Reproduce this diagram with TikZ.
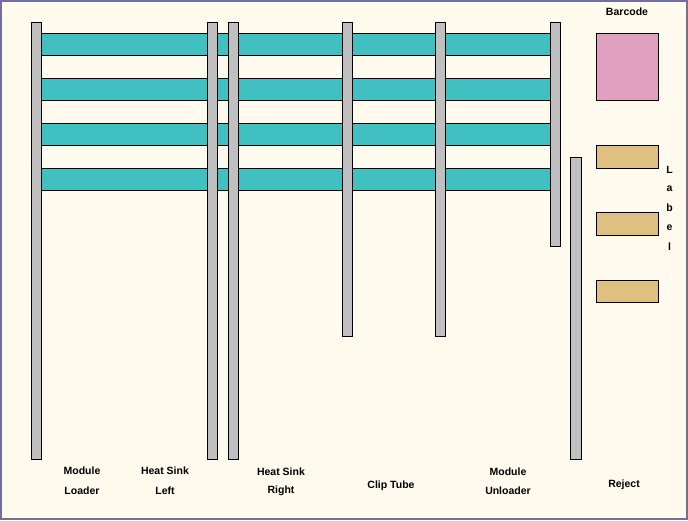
\documentclass[tikz,border=0pt]{standalone}
\usepackage{fontspec}
\setmainfont{Liberation Sans}
\definecolor{bgc}{HTML}{FFFAEE}
\definecolor{framec}{HTML}{70709A}
\definecolor{railc}{HTML}{C0C0C0}
\definecolor{tealc}{HTML}{40C0C0}
\definecolor{pinkc}{HTML}{E0A0C0}
\definecolor{tanc}{HTML}{E0C080}
\tikzset{
  rail/.style={draw=black, fill=railc, line width=1pt},
  belt/.style={draw=black, fill=tealc, line width=1pt},
  pinkbox/.style={draw=black, fill=pinkc, line width=1pt},
  tanbox/.style={draw=black, fill=tanc, line width=1pt},
  lbl/.style={font=\bfseries\fontsize{10.5}{12}\selectfont, inner sep=0pt, align=center},
}
\begin{document}
\begin{tikzpicture}[x=1pt,y=-1pt]
\useasboundingbox (0,0) rectangle (688,520);
\fill[bgc] (0,0) rectangle (688,520);
\draw[framec, line width=2pt] (1,1) rectangle (687,519);
% belts
\foreach \y in {33,78,123,168}{
  \draw[belt] (41,\y) rectangle (550,\y+22);
}
% rails
\draw[rail] (31,22) rectangle (41,459);
\draw[rail] (207,22) rectangle (217,459);
\draw[rail] (228,22) rectangle (238,459);
\draw[rail] (342,22) rectangle (352,336);
\draw[rail] (435,22) rectangle (445,336);
\draw[rail] (550,22) rectangle (560,246);
\draw[rail] (570,157) rectangle (581,459);
% right side boxes
\draw[pinkbox] (596,33) rectangle (658,100);
\draw[tanbox] (596,145) rectangle (658,168);
\draw[tanbox] (596,212) rectangle (658,235);
\draw[tanbox] (596,280) rectangle (658,302);
% labels
\node[lbl] (barcode) at (627,12) {Barcode};
\node[lbl] (l1) at (669.5,169.5) {L};
\node[lbl] (l2) at (669.5,188.5) {a};
\node[lbl] (l3) at (669.5,207.5) {b};
\node[lbl] (l4) at (669.5,227.5) {e};
\node[lbl] (l5) at (669.5,246.5) {l};
\node[lbl] (ml1) at (82,471) {Module};
\node[lbl] (ml2) at (82,491) {Loader};
\node[lbl] (hl1) at (165,471) {Heat Sink};
\node[lbl] (hl2) at (165,491) {Left};
\node[lbl] (hr1) at (281,472) {Heat Sink};
\node[lbl] (hr2) at (281,491) {Right};
\node[lbl] (ct) at (391,486) {Clip Tube};
\node[lbl] (mu1) at (508,472) {Module};
\node[lbl] (mu2) at (508,491) {Unloader};
\node[lbl] (rj) at (624,485) {Reject};
\end{tikzpicture}
\end{document}
